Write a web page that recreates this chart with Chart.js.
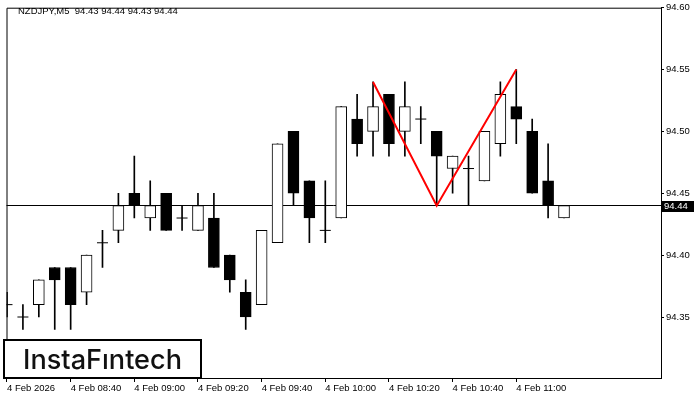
<!DOCTYPE html>
<html>
<head>
<meta charset="utf-8">
<script src="https://cdn.jsdelivr.net/npm/chart.js@4/dist/chart.umd.min.js"></script>
<style>
html, body { margin: 0; padding: 0; background: #fff; }
#wrap { width: 700px; height: 400px; }
</style>
</head>
<body>
<div id="wrap"><canvas id="chart" width="700" height="400"></canvas></div>
<script>
var symbol = 'NZDJPY,M5';

var times = ['08:20', '08:25', '08:30', '08:35', '08:40', '08:45', '08:50', '08:55',
	     '09:00', '09:05', '09:10', '09:15', '09:20', '09:25', '09:30', '09:35',
	     '09:40', '09:45', '09:50', '09:55', '10:00', '10:05', '10:10', '10:15',
	     '10:20', '10:25', '10:30', '10:35', '10:40', '10:45', '10:50', '10:55',
	     '11:00', '11:05', '11:10', '11:15'];

var opens  = [94.36, 94.35, 94.36, 94.39, 94.39, 94.37, 94.41, 94.42, 94.45, 94.43, 94.45, 94.43,
	      94.42, 94.43, 94.40, 94.37, 94.36, 94.41, 94.50, 94.46, 94.42, 94.43, 94.51, 94.50,
	      94.53, 94.50, 94.51, 94.50, 94.47, 94.47, 94.46, 94.49, 94.52, 94.50, 94.46, 94.43];
var highs  = [94.37, 94.36, 94.38, 94.39, 94.39, 94.40, 94.42, 94.45, 94.48, 94.46, 94.45, 94.44,
	      94.45, 94.45, 94.40, 94.38, 94.42, 94.49, 94.50, 94.46, 94.46, 94.52, 94.53, 94.54,
	      94.53, 94.54, 94.52, 94.50, 94.48, 94.48, 94.50, 94.54, 94.55, 94.51, 94.49, 94.44];
var lows   = [94.35, 94.34, 94.35, 94.34, 94.34, 94.36, 94.39, 94.41, 94.43, 94.42, 94.42, 94.42,
	      94.42, 94.39, 94.37, 94.34, 94.36, 94.41, 94.44, 94.41, 94.41, 94.43, 94.48, 94.48,
	      94.48, 94.48, 94.49, 94.44, 94.45, 94.44, 94.46, 94.48, 94.49, 94.45, 94.43, 94.43];
var closes = [94.36, 94.35, 94.38, 94.38, 94.36, 94.40, 94.41, 94.44, 94.44, 94.44, 94.42, 94.43,
	      94.44, 94.39, 94.38, 94.35, 94.42, 94.49, 94.45, 94.43, 94.42, 94.52, 94.49, 94.52,
	      94.49, 94.52, 94.51, 94.48, 94.48, 94.47, 94.50, 94.53, 94.51, 94.45, 94.44, 94.44];

// double top drawn in red
var patternBars = [23, 27, 32];
var patternPrices = [94.54, 94.44, 94.55];

var currentPrice = 94.44;

var xTickBars = [0, 4, 8, 12, 16, 20, 24, 28, 32];
var xTickLabels = ['4 Feb 2026', '4 Feb 08:40', '4 Feb 09:00', '4 Feb 09:20', '4 Feb 09:40',
		   '4 Feb 10:00', '4 Feb 10:20', '4 Feb 10:40', '4 Feb 11:00'];
var yTicks = [94.35, 94.40, 94.45, 94.50, 94.55, 94.60];

const FONT = 'Liberation Sans';
const FONT_SIZE = 9.5;

function last_ohlc()
{
    var n = opens.length - 1;
    return [opens[n], highs[n], lows[n], closes[n]].map(function(v){return v.toFixed(2);}).join(' ');
}

var frame = {
    id: 'frame',
    beforeDatasetsDraw: function(chart) {
	var ctx = chart.ctx;
	var a = chart.chartArea;
	var y = Math.round(chart.scales.y.getPixelForValue(currentPrice) - 0.5) + 0.5;

	ctx.save();
	ctx.strokeStyle = '#000';
	ctx.lineWidth = 1;
	ctx.beginPath();
	ctx.moveTo(a.left, y);
	ctx.lineTo(a.right, y);
	// left and top edge of the plot
	ctx.moveTo(a.left + 0.5, a.bottom);
	ctx.lineTo(a.left + 0.5, a.top + 0.5);
	ctx.lineTo(a.right, a.top + 0.5);
	ctx.stroke();
	ctx.restore();
    },
    afterDraw: function(chart) {
	var ctx = chart.ctx;
	var a = chart.chartArea;
	var y = chart.scales.y.getPixelForValue(currentPrice);

	ctx.save();
	// header
	ctx.fillStyle = '#000';
	ctx.font = FONT_SIZE + 'px "' + FONT + '"';
	ctx.textBaseline = 'middle';
	ctx.fillText(symbol + '  ' + last_ohlc(), 18, 11);

	// current price tag
	ctx.fillRect(a.right, Math.round(y) - 5, 33, 11);
	ctx.fillStyle = '#fff';
	ctx.fillText(currentPrice.toFixed(2), a.right + 3, Math.round(y) + 0.5);

	// logo box
	ctx.fillStyle = '#fff';
	ctx.fillRect(4, 340, 197, 38);
	ctx.strokeStyle = '#000';
	ctx.lineWidth = 2;
	ctx.strokeRect(4, 340, 197, 38);
	ctx.fillStyle = '#111';
	ctx.font = '500 27.5px Inter';
	ctx.textBaseline = 'alphabetic';
	var txt = 'InstaF\u0131ntech';
	var w = ctx.measureText(txt).width;
	ctx.translate(23, 368.5);
	ctx.scale(159 / w, 1);
	ctx.fillText(txt, 0, 0);
	ctx.restore();
    }
};

function draw_chart()
{
    var bodies = [];
    var wicks = [];
    var dojis = [];
    var bodyColors = [];

    for (var i = 0; i < opens.length; i++) {
	wicks.push({x: i, y: [lows[i], highs[i]]});
	if (opens[i] == closes[i]) {
	    dojis.push({x: i, y: opens[i]});
	    continue;
	}
	bodies.push({x: i, y: [opens[i], closes[i]]});
	bodyColors.push(closes[i] > opens[i] ? '#fff' : '#000');
    }

    const ctx = document.getElementById('chart');

    new Chart(ctx, {
	type: 'bar',
	data: {
	    datasets: [{
		type: 'line',
		label: 'pattern',
		data: patternBars.map(function(b, k){return {x: b, y: patternPrices[k]};}),
		borderColor: '#ff0000',
		borderWidth: 2,
		pointRadius: 0,
		tension: 0
	    }, {
		type: 'scatter',
		label: 'doji',
		data: dojis,
		pointStyle: 'line',
		pointRadius: 5.5,
		borderColor: '#000',
		borderWidth: 1
	    }, {
		label: 'body',
		data: bodies,
		grouped: false,
		barThickness: 11,
		backgroundColor: bodyColors,
		borderColor: '#000',
		borderWidth: 1,
		borderSkipped: false
	    }, {
		label: 'wick',
		data: wicks,
		grouped: false,
		barThickness: 1,
		backgroundColor: '#000',
		borderWidth: 0
	    }]
	},
	options: {
	    animation: false,
	    responsive: false,
	    events: [],
	    layout: {
		padding: {left: 3, top: 3, right: 0, bottom: 0}
	    },
	    plugins: {
		legend: {display: false},
		tooltip: {enabled: false}
	    },
	    scales: {
		x: {
		    type: 'linear',
		    offset: false,
		    min: -0.03125,
		    max: 41.09375,
		    grid: {
			offset: false,
			drawOnChartArea: false,
			tickLength: 4,
			tickColor: '#000'
		    },
		    border: {color: '#000'},
		    afterBuildTicks: function(scale) {
			scale.ticks = xTickBars.map(function(v){return {value: v};});
		    },
		    afterFit: function(scale) {
			scale.height = 22;
		    },
		    ticks: {
			autoSkip: false,
			maxRotation: 0,
			minRotation: 0,
			align: 'start',
			padding: 1,
			color: '#000',
			font: {family: FONT, size: FONT_SIZE},
			callback: function(value) {
			    return xTickLabels[xTickBars.indexOf(value)];
			}
		    }
		},
		y: {
		    position: 'right',
		    min: 94.3007,
		    max: 94.60,
		    grid: {
			drawOnChartArea: false,
			tickLength: 3,
			tickColor: '#000'
		    },
		    border: {color: '#000'},
		    afterBuildTicks: function(scale) {
			scale.ticks = yTicks.map(function(v){return {value: v};});
		    },
		    afterFit: function(scale) {
			scale.width = 39;
		    },
		    ticks: {
			padding: 2,
			color: '#000',
			font: {family: FONT, size: FONT_SIZE},
			callback: function(value) {
			    return value.toFixed(2);
			}
		    }
		}
	    }
	},
	plugins: [frame]
    });
}

draw_chart();
</script>
</body>
</html>
